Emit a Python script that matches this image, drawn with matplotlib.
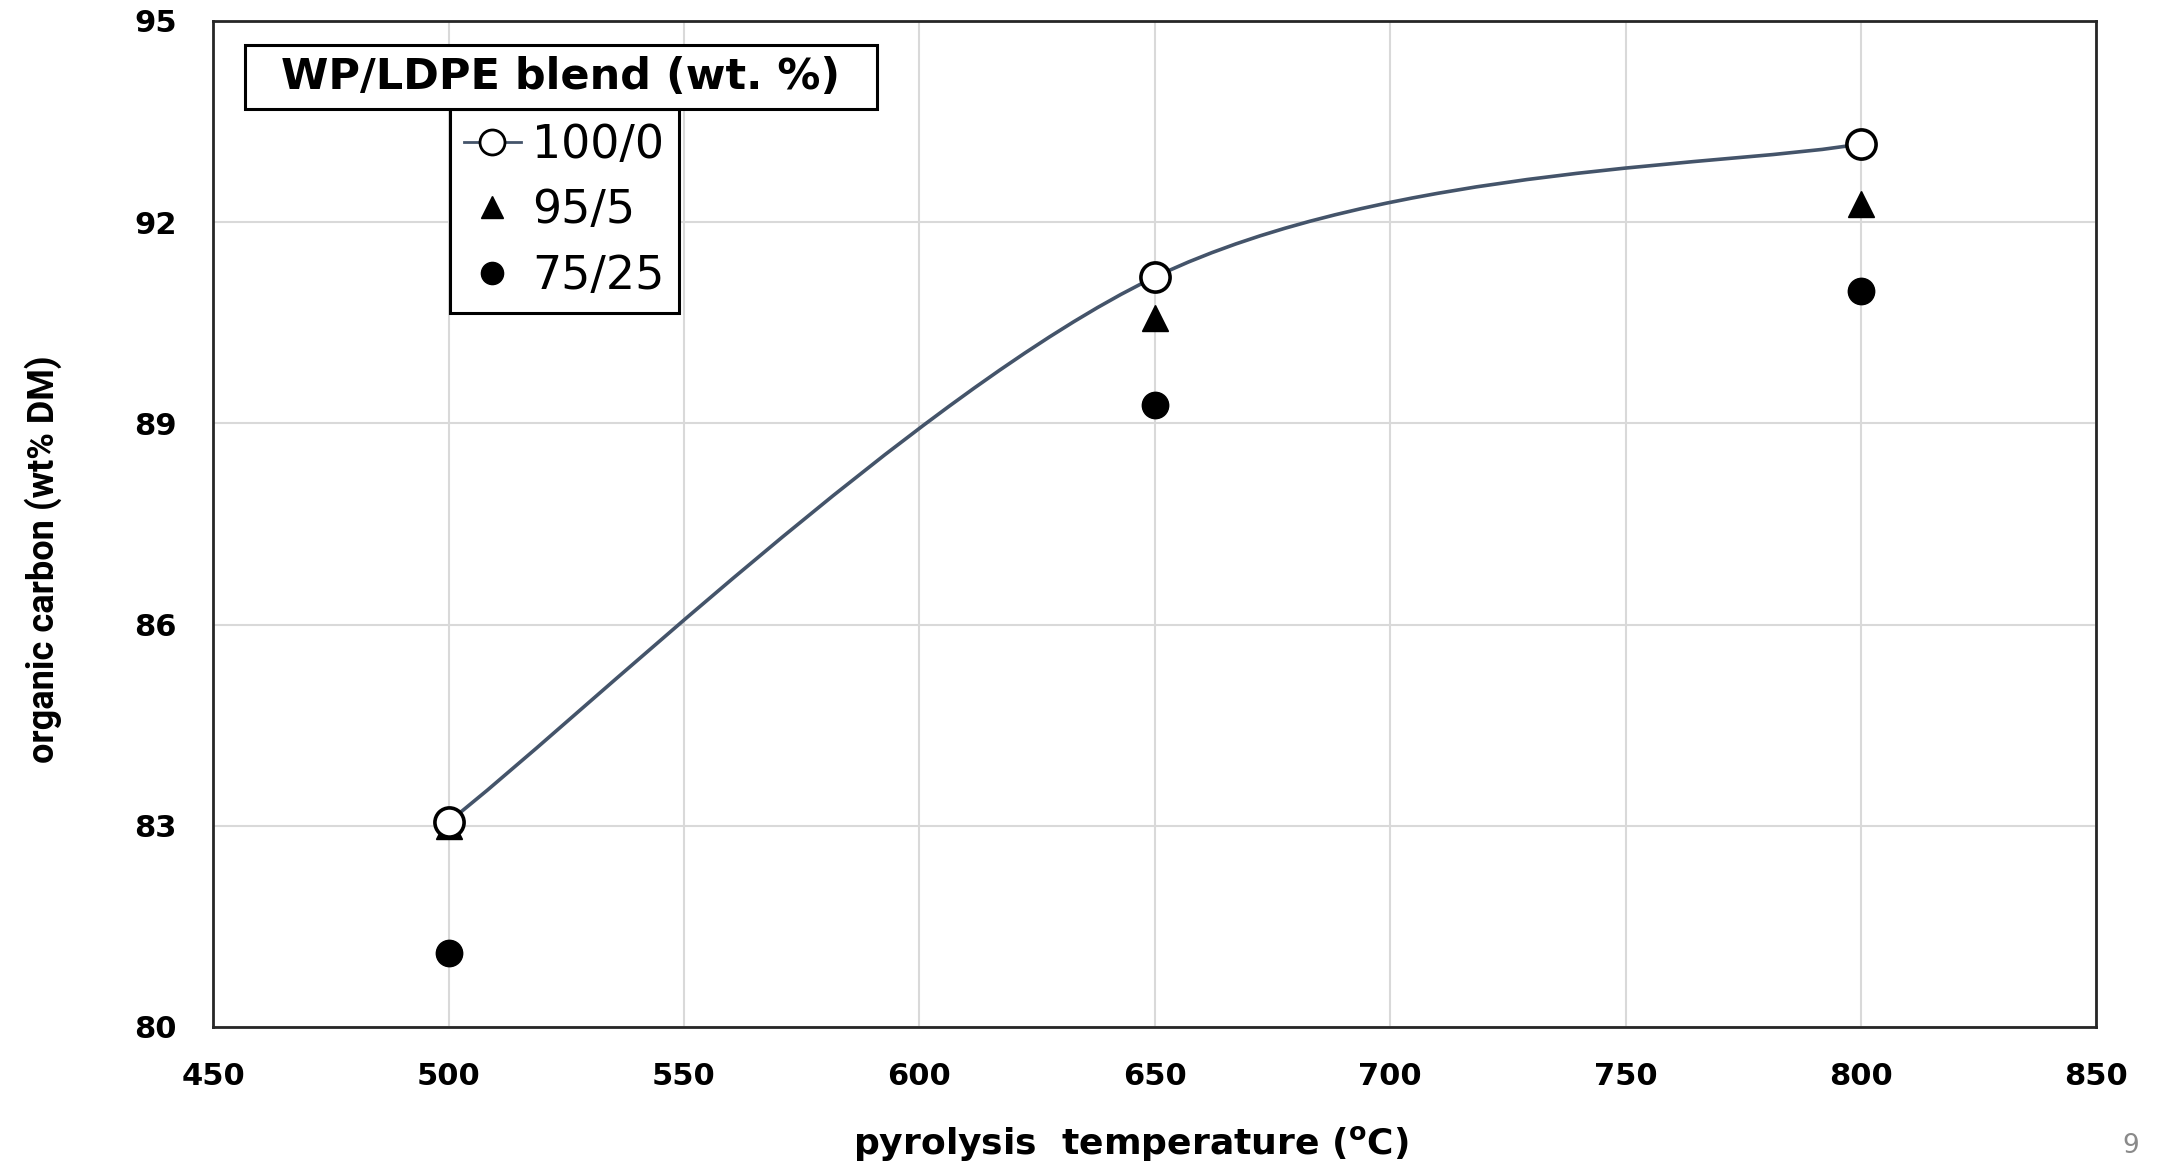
import numpy as np
import matplotlib
matplotlib.use('Agg')
import matplotlib.pyplot as plt
from matplotlib.path import Path
from matplotlib.patches import PathPatch, Rectangle
from matplotlib.lines import Line2D

plt.rcParams['font.family'] = ['DejaVu Sans']
plt.rcParams['mathtext.fontset'] = 'dejavusans'

# data
temps = [500, 650, 800]
blend_100_0 = [83.06, 91.18, 93.17]
blend_95_5 = [83.0, 90.57, 92.27]
blend_75_25 = [81.1, 89.27, 90.98]
series_labels = ['100/0', '95/5', '75/25']
x_ticks = [450, 500, 550, 600, 650, 700, 750, 800, 850]
y_ticks = [80, 83, 86, 89, 92, 95]

line_col = '#44546A'

fig = plt.figure(figsize=(21.59, 11.63), dpi=100)
ax = fig.add_axes([0.0987, 0.117, 0.8723, 0.865])

# excel style smoothed line -> cubic bezier segments (catmull-rom control points)
pts = np.column_stack([temps, blend_100_0]).astype(float)
verts = [tuple(pts[0])]
codes = [Path.MOVETO]
n = len(pts)
for i in range(n - 1):
    p_prev = pts[i - 1] if i > 0 else pts[i]
    p_next2 = pts[i + 2] if i + 2 < n else pts[i + 1]
    c1 = pts[i] + (pts[i + 1] - p_prev) / 6.0
    c2 = pts[i + 1] - (p_next2 - pts[i]) / 6.0
    verts += [tuple(c1), tuple(c2), tuple(pts[i + 1])]
    codes += [Path.CURVE4] * 3
ax.add_patch(PathPatch(Path(verts, codes), facecolor='none', edgecolor=line_col,
                       lw=2.6, zorder=3))

ax.plot(temps, blend_100_0, ls='none', marker='o', ms=21, mfc='white', mec='black',
        mew=2.6, zorder=5)
ax.plot(temps, blend_95_5, ls='none', marker='^', ms=19, color='black', zorder=4)
ax.plot(temps, blend_75_25, ls='none', marker='o', ms=19, color='black', zorder=4)

ax.set_xlim(450, 850)
ax.set_ylim(80, 95)
ax.set_xticks(x_ticks)
ax.set_yticks(y_ticks)
ax.tick_params(length=0, labelsize=22)
ax.tick_params(axis='x', pad=25)
ax.tick_params(axis='y', pad=26)
for lab in ax.get_xticklabels() + ax.get_yticklabels():
    lab.set_fontweight('bold')
ax.grid(True, color='#d9d9d9', lw=1.5)
ax.set_axisbelow(True)
for sp in ax.spines.values():
    sp.set_color('#262626')
    sp.set_linewidth(2)

ax.set_xlabel(r'pyrolysis  temperature ($^{\mathbf{o}}$C)', fontsize=26,
              fontweight='bold')
ax.xaxis.set_label_coords(0.4875, -0.096)
ax.set_ylabel('organic carbon (wt% DM)', fontsize=26, fontweight='bold',
              family=['Roboto', 'DejaVu Sans'])
ax.yaxis.set_label_coords(-0.080, 0.465)

# legend: title in its own box, entries in a box below
fig.add_artist(Rectangle((0.1135, 0.9063), 0.2927, 0.055, transform=fig.transFigure,
                         fc='white', ec='black', lw=2.2, zorder=6))
fig.text(0.2598, 0.9338, 'WP/LDPE blend (wt. %)', fontsize=31, fontweight='bold',
         ha='center', va='center', zorder=7)
handles = [
    Line2D([], [], color=line_col, lw=2, marker='o', ms=18, mfc='white', mec='black', mew=2),
    Line2D([], [], ls='none', marker='^', ms=16, color='black'),
    Line2D([], [], ls='none', marker='o', ms=16, color='black'),
]
leg = ax.legend(handles, series_labels, loc='upper left', bbox_to_anchor=(0.2084, 0.9063),
                bbox_transform=fig.transFigure, borderaxespad=0, fontsize=33,
                handlelength=1.25, handletextpad=0.25, labelspacing=0.45,
                fancybox=False, framealpha=1, edgecolor='black', borderpad=0.3)
leg.get_frame().set_linewidth(2.2)

fig.text(0.987, 0.0146, '9', fontsize=19, color='#8a8a8a', ha='center', va='center')

fig.savefig('out.png', dpi=100)
